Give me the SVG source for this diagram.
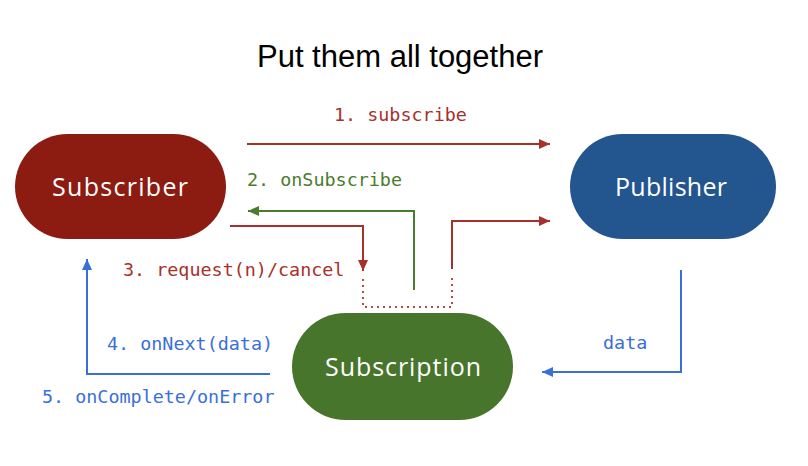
<svg xmlns="http://www.w3.org/2000/svg" width="808" height="466" viewBox="0 0 808 466">
<style>
.title{font-family:"Liberation Sans",Arial,sans-serif;font-size:31px;fill:#000;text-anchor:middle}
.node{font-family:"Open Sans","Noto Sans",sans-serif;font-size:25px;fill:#fff;text-anchor:middle}
.lbl{font-family:"DejaVu Sans Mono","Liberation Mono",monospace;font-size:18.4px}
.r{fill:#a8302a}.g{fill:#4a7c2e}.b{fill:#3a6fd8}
.lr{stroke:#a8302a;stroke-width:2;fill:none}
.lg{stroke:#4a7c2e;stroke-width:2;fill:none}
.lb{stroke:#3a6fd8;stroke-width:2;fill:none}
.dot{stroke:#b84a44;stroke-width:2;fill:none;stroke-dasharray:2 4}
</style>
<defs>
<marker id="ar" markerUnits="userSpaceOnUse" markerWidth="12" markerHeight="10" refX="11" refY="5" orient="auto"><path d="M0,0 L11,5 L0,10 Z" fill="#a8302a"/></marker>
<marker id="ag" markerUnits="userSpaceOnUse" markerWidth="12" markerHeight="10" refX="11" refY="5" orient="auto"><path d="M0,0 L11,5 L0,10 Z" fill="#4a7c2e"/></marker>
<marker id="ab" markerUnits="userSpaceOnUse" markerWidth="12" markerHeight="10" refX="11" refY="5" orient="auto"><path d="M0,0 L11,5 L0,10 Z" fill="#3a6fd8"/></marker>
</defs>
<rect width="808" height="466" fill="#fff"/>
<text class="title" x="400" y="67">Put them all together</text>
<g id="connectors">
<path class="lr" d="M247,144 L550,144" marker-end="url(#ar)"/>
<path class="lg" d="M414,290 L414,211 L248,211" marker-end="url(#ag)"/>
<path class="lr" d="M230,226 L363,226 L363,271" marker-end="url(#ar)"/>
<path class="dot" d="M363,279 L363,307 L452,307 L452,278"/>
<path class="lr" d="M452,269 L452,221 L550,221" marker-end="url(#ar)"/>
<path class="lb" d="M270,374 L87,374 L87,259" marker-end="url(#ab)"/>
<path class="lb" d="M681,270 L681,372 L542,372" marker-end="url(#ab)"/>
<text class="lbl r" x="334" y="121">1. subscribe</text>
<text class="lbl g" x="247" y="186">2. onSubscribe</text>
<text class="lbl r" x="123" y="276">3. request(n)/cancel</text>
<text class="lbl b" x="107" y="350">4. onNext(data)</text>
<text class="lbl b" x="42" y="403">5. onComplete/onError</text>
<text class="lbl b" x="603" y="349">data</text>
</g>
<g id="subscriber">
<rect x="15" y="134" width="211" height="105" rx="52.5" fill="#8c1b11"/>
<text class="node" x="120" y="196" textLength="136" lengthAdjust="spacing">Subscriber</text>
</g>
<g id="publisher">
<rect x="570" y="134" width="206" height="105" rx="52.5" fill="#23558f"/>
<text class="node" x="671" y="196" textLength="112" lengthAdjust="spacing">Publisher</text>
</g>
<g id="subscription">
<rect x="292" y="313" width="221" height="107" rx="53.5" fill="#48752c"/>
<text class="node" x="403" y="376" textLength="156" lengthAdjust="spacing">Subscription</text>
</g>
</svg>
